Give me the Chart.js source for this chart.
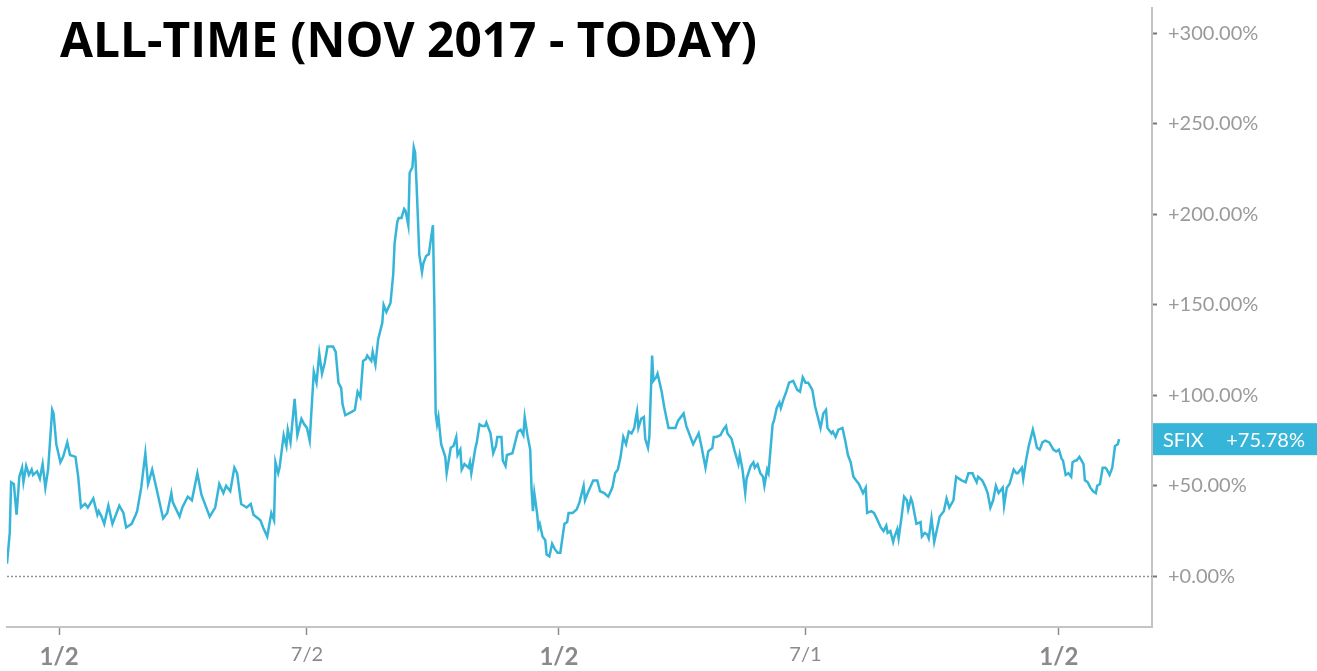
<!DOCTYPE html>
<html>
<head>
<meta charset="utf-8">
<script src="https://cdn.jsdelivr.net/npm/chart.js@4"></script>
<style>
html, body { margin: 0; padding: 0; background: #fff; }
</style>
</head>
<body>
<canvas id="canvas_0" width="1317" height="671"></canvas>
<script>
var chartTitle = 'ALL-TIME (NOV 2017 - TODAY)';
var ticker = 'SFIX';

// calendar days counted from 2 Jan 2018
var days = [
    -38,-36,-35,-33,-31,-29,-27,-26,-24,-22,-20,-19,-16,-14,-12,-10,-8,-5,-4,-2,
    1,3,6,8,12,14,16,19,21,25,28,29,31,33,36,39,41,44,47,49,
    53,56,57,60,63,65,68,71,76,79,82,83,88,90,94,97,101,104,106,110,
    114,117,120,122,125,128,130,133,137,140,142,147,149,152,155,157,158,160,161,164,
    166,167,
    169,172,174,177,179,181,183,186,188,190,192,194,196,200,202,204,206,207,209,214,
    216,218,220,222,224,225,228,229,231,233,236,237,239,242,244,245,247,248,250,252,
    253,255,256,258,259,260,261,262,263,265,266,268,270,272,273,274,275,276,277,279,
    282,283,286,288,290,291,293,294,296,299,300,301,304,305,307,309,311,312,315,317,
    319,320,323,324,326,327,331,333,335,337,339,340,342,344,345,346,347,349,350,351,
    353,355,356,358,360,362,364,366,369,371,372,
    375,378,380,383,384,386,390,393,395,398,401,404,406,408,410,412,414,416,418,420,
    421,422,423,425,427,428,430,431,433,434,436,437,440,442,445,448,450,452,456,458,
    461,463,465,467,469,470,472,474,477,478,480,483,485,487,488,491,493,496,497,499,
    501,502,505,507,508,510,512,514,515,517,518,521,522,524,526,527,529,531,533,536,
    539,541,543,545,547,550,552,554,556,558,560,561,564,565,567,569,572,574,576,578,
    580,582,
    584,587,589,590,593,595,597,600,602,604,605,607,609,610,612,613,615,617,619,620,
    622,623,626,629,630,632,634,635,637,639,641,643,646,648,650,653,655,657,659,662,
    664,667,668,670,671,674,676,678,680,682,684,686,689,690,692,694,697,699,700,703,
    704,706,708,711,712,714,716,718,720,723,726,728,730,732,733,735,737,739,740,742,
    743,745,748,749,751,753,755,757,758,760,762,764,765,767,769,771,773,774
];

// % return since IPO
var sfixReturn = [
    7,24,52,51,34,55,60,52,61,56,59,56,58,54,62,49,59,92,90,73,
    63,66,74,67,66,55,38,40,38,43,34,36,33,29,39,29,33,39,35,27,
    29,34,36,49,68,51,59,49,32,35,46,41,33,38,44,42,57,45,41,33,
    38,51,46,50,47,60,57,40,38,40,34,31,27,22,35,31,63,57,60,78,
    72,81,
    74,98,78,87,84,82,75,113,107,123,112,118,127,127,124,107,104,95,89,91,
    92,102,99,119,120,122,119,124,117,131,140,150,146,151,167,184,196,198,198,203,
    202,194,223,226,237,234,217,198,178,168,173,177,178,189,194,151,90,84,88,73,
    66,57,71,72,77,67,70,59,62,60,63,57,71,74,84,83,83,85,79,68,
    72,77,77,64,61,67,68,74,80,81,78,88,78,70,48,36,46,35,27,29,
    22,20,12,11,18,15,13,13,29,30,35,
    35,37,41,50,42,46,53,53,47,46,44,49,57,59,66,77,73,80,79,82,
    87,91,82,87,88,76,71,77,122,108,110,112,102,93,82,82,82,86,90,83,
    77,73,76,79,72,68,60,69,71,77,77,78,81,83,79,76,70,62,67,59,
    46,54,61,63,60,62,57,55,50,59,57,84,86,93,96,93,98,102,107,108,
    103,102,110,107,107,103,94,88,82,90,92,82,79,80,77,81,82,75,67,63,
    55,53,
    51,46,49,35,36,35,32,27,25,28,24,25,19,22,26,21,32,44,42,37,
    43,41,29,30,22,24,23,21,32,19,26,33,36,43,38,42,55,54,53,52,
    57,57,55,52,55,53,50,46,38,42,50,46,49,39,49,51,59,57,57,60,
    54,64,72,81,78,71,70,74,75,74,70,69,70,65,64,56,57,55,63,64,
    64,66,62,53,52,49,47,46,50,51,60,60,59,56,60,72,73,75.78
];

var xTickDays = [0, 181, 365, 545, 730];
var xTickLabels = ['1/2', '7/2', '1/2', '7/1', '1/2'];
var xTickBold = [true, false, true, false, true];
var yTicks = [0, 50, 100, 150, 200, 250, 300];

var lineColor = '#36b5d8';

function formatPct(v) {
    return '+' + v.toFixed(2) + '%';
}

var titlePlugin = {
    id: 'bigTitle',
    afterDraw: function (chart) {
        var ctx = chart.ctx;
        ctx.save();
        ctx.fillStyle = '#000';
        ctx.font = 'bold 49px "Open Sans"';
        ctx.textBaseline = 'alphabetic';
        ctx.textAlign = 'left';
        ctx.fillText(chartTitle, 60, 57, 697);
        ctx.restore();
    }
};

var zeroLinePlugin = {
    id: 'zeroLine',
    beforeDatasetsDraw: function (chart) {
        var ctx = chart.ctx;
        var area = chart.chartArea;
        var y0 = Math.round(chart.scales.y.getPixelForValue(0)) + 0.5;
        ctx.save();
        ctx.strokeStyle = '#939393';
        ctx.lineWidth = 1.5;
        ctx.setLineDash([2, 2]);
        ctx.beginPath();
        ctx.moveTo(area.left, y0);
        ctx.lineTo(area.right, y0);
        ctx.stroke();
        ctx.restore();
    }
};

var lastValuePlugin = {
    id: 'lastValue',
    afterDraw: function (chart) {
        var ctx = chart.ctx;
        var area = chart.chartArea;
        var last = sfixReturn[sfixReturn.length - 1];
        var py = chart.scales.y.getPixelForValue(last);
        ctx.save();
        ctx.fillStyle = '#37b5d8';
        ctx.fillRect(area.right + 1, py - 16, chart.width - area.right - 1, 32);
        ctx.fillStyle = '#fff';
        ctx.font = '20px Lato';
        ctx.textBaseline = 'middle';
        ctx.textAlign = 'left';
        ctx.fillText(ticker, area.right + 11, py + 1);
        ctx.textAlign = 'right';
        ctx.fillText(formatPct(last), chart.width - 12, py + 1);
        ctx.restore();
    }
};

function noScalePadding(scale) {
    scale.paddingTop = 0;
    scale.paddingBottom = 0;
}

function draw_chart() {
    var points = days.map(function (d, i) {
        return { x: d, y: sfixReturn[i] };
    });
    var ctx = document.getElementById('canvas_0');
    new Chart(ctx, {
        type: 'line',
        data: {
            datasets: [{
                label: ticker,
                data: points,
                borderColor: lineColor,
                borderWidth: 2.5,
                pointRadius: 0,
                tension: 0
            }]
        },
        options: {
            responsive: false,
            animation: false,
            layout: { padding: { left: 7, top: 8, right: 0, bottom: 0 } },
            plugins: {
                legend: { display: false },
                tooltip: { enabled: false }
            },
            scales: {
                x: {
                    type: 'linear',
                    min: -38,
                    max: 798,
                    afterBuildTicks: function (scale) {
                        scale.ticks = xTickDays.map(function (v) { return { value: v }; });
                    },
                    afterFit: function (scale) { scale.height = 44; },
                    border: { display: true, color: '#c4c4c4', width: 2 },
                    grid: { drawOnChartArea: false, tickLength: 8, color: '#8c8c8c', tickWidth: 1.5 },
                    ticks: {
                        autoSkip: false,
                        maxRotation: 0,
                        padding: 8,
                        color: '#8a8a8a',
                        font: function (c) {
                            var i = c.tick ? xTickDays.indexOf(c.tick.value) : -1;
                            if (i >= 0 && xTickBold[i]) {
                                return { family: 'Lato', size: 24, weight: 'bold' };
                            }
                            return { family: 'Lato', size: 20 };
                        },
                        callback: function (value) {
                            var i = xTickDays.indexOf(value);
                            return i >= 0 ? xTickLabels[i] : '';
                        }
                    }
                },
                y: {
                    position: 'right',
                    min: -28,
                    max: 314,
                    afterBuildTicks: function (scale) {
                        scale.ticks = yTicks.map(function (v) { return { value: v }; });
                    },
                    afterFit: function (scale) {
                        scale.width = 165;
                        noScalePadding(scale);
                    },
                    border: { display: true, color: '#c4c4c4', width: 2 },
                    grid: { drawOnChartArea: false, tickLength: 5, color: '#777', tickWidth: 2 },
                    ticks: {
                        padding: 11,
                        color: '#9a9a9a',
                        font: { family: 'Lato', size: 20 },
                        callback: function (value) { return formatPct(value); }
                    }
                }
            }
        },
        plugins: [titlePlugin, zeroLinePlugin, lastValuePlugin]
    });
}

draw_chart();
</script>
</body>
</html>
